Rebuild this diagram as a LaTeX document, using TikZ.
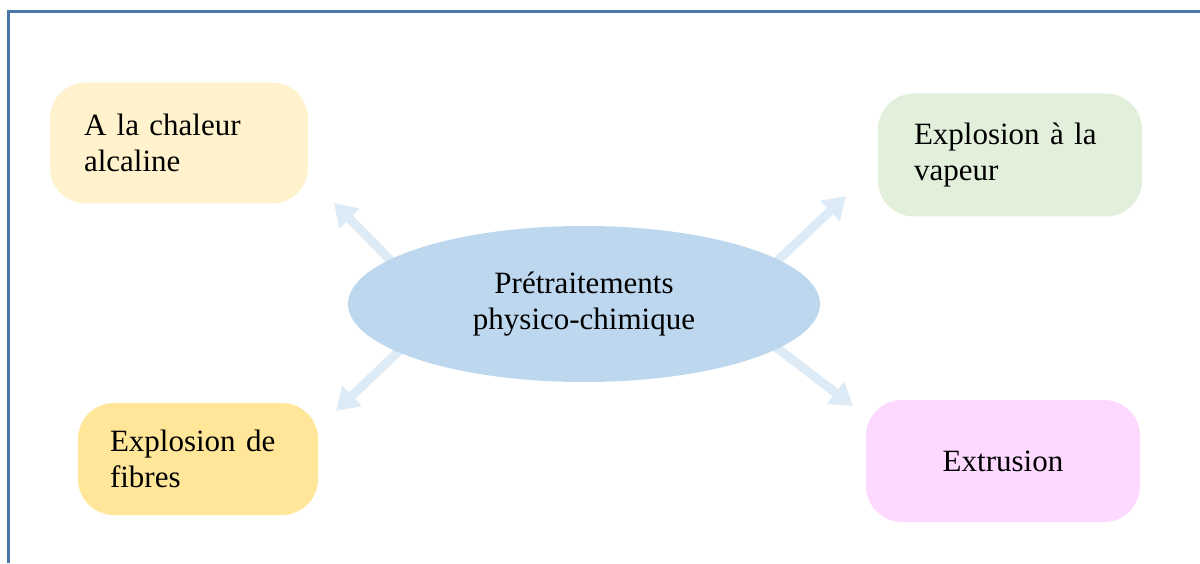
\documentclass[tikz,border=0pt]{standalone}
\usepackage{fontspec}
\setmainfont{Liberation Serif}
\usetikzlibrary{shapes.geometric,arrows.meta,backgrounds}
\definecolor{framecol}{HTML}{4A76A8}
\definecolor{yellowA}{HTML}{FFF2CC}
\definecolor{greenA}{HTML}{E2EFDA}
\definecolor{yellowB}{HTML}{FFE699}
\definecolor{pinkA}{HTML}{FDD9FF}
\definecolor{ellcol}{HTML}{BDD7EE}
\definecolor{arrcol}{HTML}{DDEBF7}
\begin{document}
\begin{tikzpicture}[x=1pt,y=1pt,
  txt/.style={font=\fontsize{31}{36}\selectfont, text=black},
  card/.style={txt, rounded corners=36pt, inner sep=0pt, align=left},
  spoke/.style={draw=arrcol, line width=9pt, -{Triangle[width=27pt,length=22pt]}}]
\useasboundingbox (0,0) rectangle (1200,563);
% frame on the left and top edges
\draw[framecol, line width=3pt] (8,0) -- (8,551) -- (1200,551);
% category boxes
\node[card, fill=yellowA, minimum width=258pt, minimum height=121pt, text width=190pt] (chal) at (179,420) {A la chaleur\\alcaline};
\node[card, fill=greenA, minimum width=264pt, minimum height=123pt, text width=192pt] (vap) at (1010,408) {Explosion à la\\vapeur};
\node[card, fill=yellowB, minimum width=240pt, minimum height=112pt, text width=176pt] (fib) at (198,104) {Explosion de\\fibres};
\node[card, fill=pinkA, minimum width=274pt, minimum height=122pt, align=center] (ext) at (1003,102) {Extrusion};
% central ellipse
\node[txt, ellipse, fill=ellcol, minimum width=472pt, minimum height=156pt, inner sep=0pt, align=center] (c) at (584,259) {Prétraitements\\physico-chimique};
% arrow start points (hidden under the ellipse) and tips
\coordinate (s1) at (413,280); \coordinate (t1) at (334,360);
\coordinate (s2) at (420,232); \coordinate (t2) at (336,152);
\coordinate (s3) at (756,282); \coordinate (t3) at (846,367);
\coordinate (s4) at (756,231); \coordinate (t4) at (853,157);
\begin{pgfonlayer}{background}
\draw[spoke] (s1) -- (t1);
\draw[spoke] (s2) -- (t2);
\draw[spoke] (s3) -- (t3);
\draw[spoke] (s4) -- (t4);
\end{pgfonlayer}
\end{tikzpicture}
\end{document}
